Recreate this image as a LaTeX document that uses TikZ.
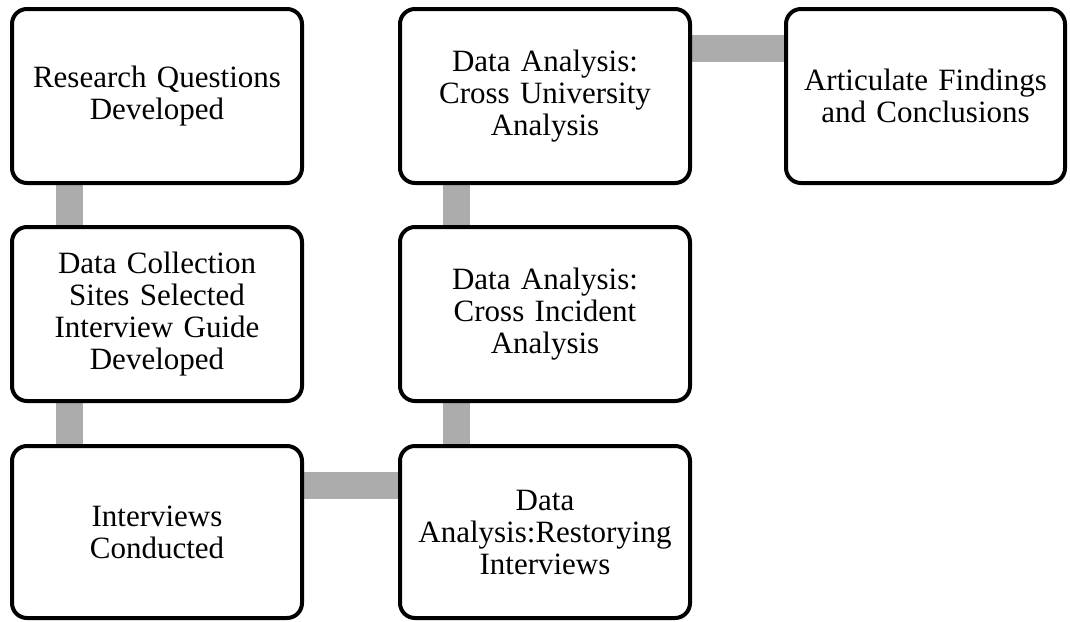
\documentclass[tikz,border=0pt]{standalone}
\usepackage{fontspec}
\setmainfont{Liberation Serif}
\usetikzlibrary{backgrounds}
\tikzset{
  box/.style={draw=black, fill=white, line width=4pt, rounded corners=15pt,
    minimum width=290pt, minimum height=174pt, inner sep=0pt,
    text width=280pt, align=center,
    font=\fontsize{31}{32}\selectfont},
  conn/.style={draw=gray!65, line width=27pt}
}
\begin{document}
\begin{tikzpicture}[x=1pt,y=-1pt]
\useasboundingbox (0,0) rectangle (1070,621);
\node[box] (b1) at (157,96) {Research Questions\\Developed};
\node[box] (b2) at (157,314) {Data Collection\\Sites Selected\\Interview Guide\\Developed};
\node[box, minimum height=172pt] (b3) at (157,532) {Interviews\\Conducted};
\node[box, minimum height=172pt] (b4) at (545,532) {Data\\Analysis:Restorying\\Interviews};
\node[box] (b5) at (545,314) {Data Analysis:\\Cross Incident\\Analysis};
\node[box] (b6) at (545,96) {Data Analysis:\\Cross University\\Analysis};
\node[box, minimum width=279pt, text width=270pt] (b7) at (925.5,96) {Articulate Findings\\and Conclusions};
\begin{scope}[on background layer]
  \draw[conn] ([xshift=59.5pt]b1.south west) -- ([xshift=59.5pt]b2.north west);
  \draw[conn] ([xshift=59.5pt]b2.south west) -- ([xshift=59.5pt]b3.north west);
  \draw[conn] ([yshift=-41.5pt]b3.north east) -- ([yshift=-41.5pt]b4.north west);
  \draw[conn] ([xshift=58.5pt]b4.north west) -- ([xshift=58.5pt]b5.south west);
  \draw[conn] ([xshift=58.5pt]b5.north west) -- ([xshift=58.5pt]b6.south west);
  \draw[conn] ([yshift=-41.5pt]b6.north east) -- ([yshift=-41.5pt]b7.north west);
\end{scope}
\end{tikzpicture}
\end{document}
